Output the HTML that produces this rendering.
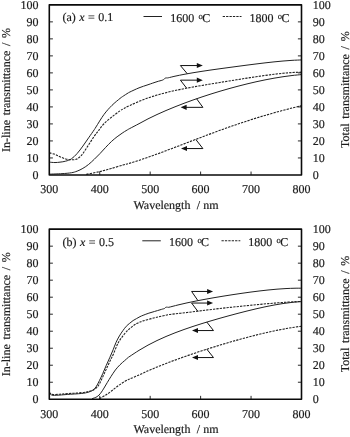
<!DOCTYPE html>
<html><head><meta charset="utf-8"><title>Transmittance spectra</title>
<style>
html,body{margin:0;padding:0;background:#fff;}
body{width:350px;height:437px;overflow:hidden;}
svg{display:block;will-change:transform;text-rendering:geometricPrecision;font-family:"Liberation Serif",serif;font-size:12px;fill:#1c1c1c;}
text{stroke:#1c1c1c;stroke-width:0.18;}
.fr{fill:none;stroke:#0a0a0a;stroke-width:1.6;stroke-linejoin:round;}
.tk{fill:none;stroke:#111;stroke-width:0.9;}
.cs{fill:none;stroke:#222;stroke-width:1.0;}
.cd{fill:none;stroke:#222;stroke-width:1.1;stroke-dasharray:2.3 1.1;}
.ar{fill:none;stroke:#111;stroke-width:1.0;stroke-linejoin:miter;}
.ah{fill:#111;stroke:none;}
.ws{word-spacing:1.4px;}
.wt{word-spacing:0.5px;}
.ws2{word-spacing:1.7px;}
</style></head><body>
<svg width="350" height="437" viewBox="0 0 350 437">
<rect width="350" height="437" fill="#fff"/>
<path d="M49.30 162.15C50.25 162.22 53.22 162.55 55.00 162.55C56.78 162.55 58.22 162.38 60.00 162.15C61.78 161.92 63.80 161.70 65.70 161.15C67.60 160.60 69.50 160.12 71.40 158.85C73.30 157.58 75.18 155.68 77.10 153.55C79.02 151.42 80.98 148.67 82.90 146.05C84.82 143.43 86.70 140.58 88.60 137.85C90.50 135.12 93.07 131.47 94.30 129.65C95.53 127.83 94.38 129.48 96.00 126.95C97.62 124.42 101.33 118.05 104.00 114.45C106.67 110.85 109.33 108.02 112.00 105.35C114.67 102.68 118.13 99.98 120.00 98.45C121.87 96.92 121.87 97.05 123.20 96.15C124.53 95.25 126.87 93.75 128.00 93.05C129.13 92.35 128.17 92.83 130.00 91.96C131.83 91.10 136.00 89.05 139.00 87.85C142.00 86.64 145.00 85.77 148.00 84.74C151.00 83.72 154.65 82.43 157.00 81.68C159.35 80.93 160.98 80.61 162.10 80.24C163.22 79.87 163.22 79.80 163.70 79.47C164.18 79.13 164.52 78.48 165.00 78.22C165.48 77.96 166.05 77.99 166.60 77.91C167.15 77.84 166.90 78.08 168.30 77.79C169.70 77.50 172.38 76.77 175.00 76.19C177.62 75.62 181.00 74.93 184.00 74.36C187.00 73.79 190.00 73.26 193.00 72.76C196.00 72.25 199.00 71.78 202.00 71.32C205.00 70.85 208.00 70.42 211.00 69.98C214.00 69.55 217.00 69.14 220.00 68.72C223.00 68.31 226.00 67.90 229.00 67.50C232.00 67.10 235.00 66.70 238.00 66.30C241.00 65.91 244.00 65.51 247.00 65.12C250.00 64.74 253.00 64.35 256.00 63.98C259.00 63.61 262.00 63.24 265.00 62.89C268.00 62.54 271.00 62.20 274.00 61.88C277.00 61.57 280.00 61.27 283.00 61.02C286.00 60.76 288.92 60.53 292.00 60.35C295.08 60.17 299.92 60.00 301.50 59.93" class="cs"/>
<path d="M49.30 152.85C50.30 153.12 53.52 153.80 55.30 154.45C57.08 155.10 58.27 156.00 60.00 156.75C61.73 157.50 63.80 158.45 65.70 158.95C67.60 159.45 69.68 159.68 71.40 159.75C73.12 159.82 74.67 159.77 76.00 159.35C77.33 158.93 78.25 158.22 79.40 157.25C80.55 156.28 81.37 155.62 82.90 153.55C84.43 151.48 86.70 147.75 88.60 144.85C90.50 141.95 92.67 138.50 94.30 136.15C95.93 133.80 96.78 132.82 98.40 130.75C100.02 128.68 101.73 126.07 104.00 123.75C106.27 121.43 109.33 119.00 112.00 116.85C114.67 114.70 118.00 112.25 120.00 110.85C122.00 109.45 122.33 109.36 124.00 108.45C125.67 107.54 127.50 106.55 130.00 105.38C132.50 104.21 136.00 102.67 139.00 101.43C142.00 100.19 145.00 99.01 148.00 97.95C151.00 96.89 154.00 95.96 157.00 95.08C160.00 94.20 163.00 93.41 166.00 92.66C169.00 91.90 172.00 91.22 175.00 90.56C178.00 89.90 181.00 89.29 184.00 88.70C187.00 88.11 190.00 87.56 193.00 87.01C196.00 86.47 199.00 85.95 202.00 85.44C205.00 84.92 208.00 84.43 211.00 83.93C214.00 83.43 217.00 82.94 220.00 82.46C223.00 81.97 226.00 81.49 229.00 81.00C232.00 80.52 235.00 80.04 238.00 79.56C241.00 79.09 244.00 78.61 247.00 78.14C250.00 77.68 253.00 77.21 256.00 76.76C259.00 76.32 262.00 75.88 265.00 75.46C268.00 75.05 271.00 74.65 274.00 74.28C277.00 73.92 280.00 73.58 283.00 73.29C286.00 73.00 288.92 72.74 292.00 72.56C295.08 72.37 299.92 72.22 301.50 72.16" class="cd"/>
<path d="M49.30 174.15C51.42 174.07 58.32 173.88 62.00 173.65C65.68 173.42 68.88 173.17 71.40 172.75C73.92 172.33 75.18 171.88 77.10 171.15C79.02 170.42 80.98 169.47 82.90 168.35C84.82 167.23 86.70 165.97 88.60 164.45C90.50 162.93 92.40 161.07 94.30 159.25C96.20 157.43 98.10 155.53 100.00 153.55C101.90 151.57 103.80 149.35 105.70 147.35C107.60 145.35 109.50 143.32 111.40 141.55C113.30 139.78 115.18 138.23 117.10 136.75C119.02 135.27 120.98 133.92 122.90 132.65C124.82 131.38 127.42 129.86 128.60 129.15C129.78 128.44 128.27 129.32 130.00 128.41C131.73 127.50 136.00 125.28 139.00 123.69C142.00 122.10 145.00 120.40 148.00 118.87C151.00 117.35 154.00 115.92 157.00 114.53C160.00 113.14 163.00 111.82 166.00 110.53C169.00 109.24 172.00 108.00 175.00 106.80C178.00 105.59 181.00 104.43 184.00 103.30C187.00 102.17 190.00 101.08 193.00 100.01C196.00 98.95 199.00 97.92 202.00 96.92C205.00 95.91 208.00 94.94 211.00 93.99C214.00 93.04 217.00 92.13 220.00 91.23C223.00 90.34 226.00 89.47 229.00 88.63C232.00 87.79 235.00 86.98 238.00 86.19C241.00 85.40 244.00 84.64 247.00 83.91C250.00 83.18 253.00 82.48 256.00 81.81C259.00 81.14 262.00 80.50 265.00 79.90C268.00 79.30 271.00 78.72 274.00 78.19C277.00 77.67 280.00 77.17 283.00 76.73C286.00 76.28 288.92 75.88 292.00 75.52C295.08 75.17 299.92 74.74 301.50 74.58" class="cs"/>
<path d="M86.30 174.35C87.63 174.08 92.02 173.22 94.30 172.75C96.58 172.28 98.28 171.95 100.00 171.55C101.72 171.15 102.70 170.87 104.60 170.35C106.50 169.83 108.35 169.33 111.40 168.45C114.45 167.57 119.80 165.94 122.90 165.05C126.00 164.16 127.32 163.89 130.00 163.12C132.68 162.34 136.00 161.38 139.00 160.40C142.00 159.42 145.00 158.29 148.00 157.23C151.00 156.18 154.00 155.14 157.00 154.05C160.00 152.97 163.00 151.85 166.00 150.73C169.00 149.61 172.00 148.46 175.00 147.32C178.00 146.18 181.00 145.03 184.00 143.88C187.00 142.73 190.00 141.57 193.00 140.42C196.00 139.28 199.00 138.13 202.00 137.00C205.00 135.86 208.00 134.73 211.00 133.62C214.00 132.50 217.00 131.40 220.00 130.31C223.00 129.23 226.00 128.15 229.00 127.10C232.00 126.05 235.00 125.01 238.00 123.99C241.00 122.98 244.00 121.98 247.00 121.01C250.00 120.04 253.00 119.08 256.00 118.15C259.00 117.22 262.00 116.32 265.00 115.43C268.00 114.54 271.00 113.68 274.00 112.84C277.00 112.00 280.00 111.18 283.00 110.38C286.00 109.58 288.92 108.82 292.00 108.04C295.08 107.26 299.92 106.09 301.50 105.70" class="cd"/>
<rect x="49.30" y="4.85" width="252.20" height="170.10" class="fr"/>
<path d="M49.30 157.94h3.6M301.50 157.94h-3.6M49.30 140.93h3.6M301.50 140.93h-3.6M49.30 123.92h3.6M301.50 123.92h-3.6M49.30 106.91h3.6M301.50 106.91h-3.6M49.30 89.90h3.6M301.50 89.90h-3.6M49.30 72.89h3.6M301.50 72.89h-3.6M49.30 55.88h3.6M301.50 55.88h-3.6M49.30 38.87h3.6M301.50 38.87h-3.6M49.30 21.86h3.6M301.50 21.86h-3.6M99.74 174.95v-3.4M150.18 174.95v-3.4M200.62 174.95v-3.4M251.06 174.95v-3.4" class="tk"/>
<text x="38.5" y="178.95" text-anchor="end">0</text>
<text x="312.7" y="178.95">0</text>
<text x="38.5" y="161.94" text-anchor="end">10</text>
<text x="312.7" y="161.94">10</text>
<text x="38.5" y="144.93" text-anchor="end">20</text>
<text x="312.7" y="144.93">20</text>
<text x="38.5" y="127.92" text-anchor="end">30</text>
<text x="312.7" y="127.92">30</text>
<text x="38.5" y="110.91" text-anchor="end">40</text>
<text x="312.7" y="110.91">40</text>
<text x="38.5" y="93.90" text-anchor="end">50</text>
<text x="312.7" y="93.90">50</text>
<text x="38.5" y="76.89" text-anchor="end">60</text>
<text x="312.7" y="76.89">60</text>
<text x="38.5" y="59.88" text-anchor="end">70</text>
<text x="312.7" y="59.88">70</text>
<text x="38.5" y="42.87" text-anchor="end">80</text>
<text x="312.7" y="42.87">80</text>
<text x="38.5" y="25.86" text-anchor="end">90</text>
<text x="312.7" y="25.86">90</text>
<text x="38.5" y="8.85" text-anchor="end">100</text>
<text x="312.7" y="8.85">100</text>
<text x="49.30" y="193.40" text-anchor="middle">300</text>
<text x="99.74" y="193.40" text-anchor="middle">400</text>
<text x="150.18" y="193.40" text-anchor="middle">500</text>
<text x="200.62" y="193.40" text-anchor="middle">600</text>
<text x="251.06" y="193.40" text-anchor="middle">700</text>
<text x="301.50" y="193.40" text-anchor="middle">800</text>
<text x="176" y="208.90" text-anchor="middle" class="ws">Wavelength <tspan dx="1.9">/</tspan> <tspan dx="-1.3">nm</tspan></text>
<text transform="translate(9.7 89.95) rotate(-90)" text-anchor="middle" class="ws2">In-line transmittance / %</text>
<text transform="translate(349.0 89.65) rotate(-90)" text-anchor="middle" class="ws2">Total transmittance / %</text>
<text x="62.4" y="21.35" class="wt">(a) <tspan font-style="italic">x</tspan> = 0.1</text>
<path d="M143.50 16.50H162.00" class="cs"/>
<text x="170.30" y="21.90">1600<tspan x="198.60" y="18.50" font-size="8.6">o</tspan><tspan x="202.20" y="21.90">C</tspan></text>
<path d="M222.70 16.50H241.50" class="cd"/>
<text x="249.50" y="21.90">1800<tspan x="277.80" y="18.50" font-size="8.6">o</tspan><tspan x="281.40" y="21.90">C</tspan></text>
<path d="M187.30 73.75L180.40 65.55L199.20 65.55" class="ar"/><path d="M202.80 65.55L196.80 63.00L196.80 68.10Z" class="ah"/>
<path d="M186.60 88.15L180.40 80.15L199.20 80.15" class="ar"/><path d="M202.80 80.15L196.80 77.60L196.80 82.70Z" class="ah"/>
<path d="M196.60 98.75L202.90 107.35L184.20 107.35" class="ar"/><path d="M180.60 107.35L186.60 104.80L186.60 109.90Z" class="ah"/>
<path d="M195.90 139.55L202.90 148.55L184.60 148.55" class="ar"/><path d="M181.00 148.55L187.00 146.00L187.00 151.10Z" class="ah"/>
<path d="M49.30 393.15C49.58 393.38 50.38 394.18 51.00 394.55C51.62 394.92 51.50 395.27 53.00 395.35C54.50 395.43 57.60 395.20 60.00 395.05C62.40 394.90 63.78 394.72 67.40 394.45C71.02 394.18 78.27 393.82 81.70 393.45C85.13 393.08 86.18 392.77 88.00 392.25C89.82 391.73 91.27 391.23 92.60 390.35C93.93 389.47 94.87 388.57 96.00 386.95C97.13 385.33 98.25 382.93 99.40 380.65C100.55 378.37 101.75 375.82 102.90 373.25C104.05 370.68 105.17 367.83 106.30 365.25C107.43 362.67 108.57 360.32 109.70 357.75C110.83 355.18 112.05 352.40 113.10 349.85C114.15 347.30 114.95 344.77 116.00 342.45C117.05 340.13 118.25 337.92 119.40 335.95C120.55 333.98 121.75 332.27 122.90 330.65C124.05 329.03 125.17 327.48 126.30 326.25C127.43 325.02 128.57 324.20 129.70 323.25C130.83 322.30 131.95 321.34 133.10 320.55C134.25 319.76 135.45 319.18 136.60 318.54C137.75 317.89 138.92 317.21 140.00 316.67C141.08 316.13 141.62 315.89 143.10 315.31C144.58 314.72 146.98 313.79 148.90 313.15C150.82 312.51 152.75 312.00 154.60 311.45C156.45 310.90 158.63 310.25 160.00 309.84C161.37 309.43 162.07 309.18 162.80 308.97C163.53 308.75 163.92 308.81 164.40 308.55C164.88 308.28 165.22 307.60 165.70 307.36C166.18 307.13 166.75 307.15 167.30 307.13C167.85 307.11 167.22 307.59 169.00 307.23C170.78 306.87 175.00 305.68 178.00 304.96C181.00 304.23 184.00 303.55 187.00 302.89C190.00 302.24 193.00 301.62 196.00 301.02C199.00 300.42 202.00 299.86 205.00 299.30C208.00 298.75 211.00 298.22 214.00 297.70C217.00 297.18 220.00 296.68 223.00 296.19C226.00 295.71 229.00 295.23 232.00 294.77C235.00 294.31 238.00 293.86 241.00 293.43C244.00 292.99 247.00 292.57 250.00 292.17C253.00 291.77 256.00 291.38 259.00 291.02C262.00 290.66 265.00 290.32 268.00 290.01C271.00 289.70 274.00 289.41 277.00 289.17C280.00 288.93 283.00 288.71 286.00 288.56C289.00 288.40 292.42 288.29 295.00 288.23C297.58 288.17 300.42 288.21 301.50 288.21" class="cs"/>
<path d="M49.30 392.35C49.58 392.58 50.38 393.38 51.00 393.75C51.62 394.12 51.50 394.47 53.00 394.55C54.50 394.63 57.60 394.40 60.00 394.25C62.40 394.10 63.78 393.92 67.40 393.65C71.02 393.38 78.27 392.98 81.70 392.65C85.13 392.32 86.12 392.07 88.00 391.65C89.88 391.23 91.43 390.93 93.00 390.15C94.57 389.37 96.07 388.53 97.40 386.95C98.73 385.37 99.83 382.93 101.00 380.65C102.17 378.37 103.27 375.73 104.40 373.25C105.53 370.77 106.65 368.23 107.80 365.75C108.95 363.27 110.43 360.13 111.30 358.35C112.17 356.57 112.05 357.22 113.00 355.05C113.95 352.88 115.93 347.73 117.00 345.35C118.07 342.97 118.42 342.32 119.40 340.75C120.38 339.18 121.75 337.45 122.90 335.95C124.05 334.45 125.17 332.97 126.30 331.75C127.43 330.53 128.57 329.63 129.70 328.65C130.83 327.67 131.95 326.70 133.10 325.85C134.25 325.00 135.45 324.18 136.60 323.55C137.75 322.92 138.92 322.50 140.00 322.05C141.08 321.60 141.62 321.30 143.10 320.85C144.58 320.40 146.98 319.89 148.90 319.37C150.82 318.86 152.75 318.24 154.60 317.76C156.45 317.29 157.60 317.06 160.00 316.53C162.40 315.99 166.00 315.05 169.00 314.56C172.00 314.06 175.00 313.88 178.00 313.55C181.00 313.22 184.00 312.91 187.00 312.55C190.00 312.19 193.00 311.76 196.00 311.38C199.00 310.99 202.00 310.61 205.00 310.25C208.00 309.88 211.00 309.53 214.00 309.18C217.00 308.84 220.00 308.50 223.00 308.17C226.00 307.83 229.00 307.51 232.00 307.19C235.00 306.87 238.00 306.55 241.00 306.24C244.00 305.93 247.00 305.63 250.00 305.33C253.00 305.04 256.00 304.74 259.00 304.46C262.00 304.18 265.00 303.91 268.00 303.65C271.00 303.39 274.00 303.13 277.00 302.90C280.00 302.67 283.00 302.44 286.00 302.24C289.00 302.04 292.42 301.84 295.00 301.70C297.58 301.56 300.42 301.45 301.50 301.40" class="cd"/>
<path d="M92.00 398.75C92.85 398.40 95.67 397.57 97.10 396.65C98.53 395.73 99.45 394.68 100.60 393.25C101.75 391.82 102.87 389.87 104.00 388.05C105.13 386.23 106.25 384.25 107.40 382.35C108.55 380.45 109.57 378.72 110.90 376.65C112.23 374.58 113.88 371.93 115.40 369.95C116.92 367.97 118.47 366.30 120.00 364.75C121.53 363.20 123.27 361.83 124.60 360.65C125.93 359.47 127.10 358.39 128.00 357.65C128.90 356.91 128.17 357.45 130.00 356.24C131.83 355.02 136.00 352.20 139.00 350.35C142.00 348.50 145.00 346.76 148.00 345.13C151.00 343.50 154.00 342.00 157.00 340.56C160.00 339.12 163.00 337.78 166.00 336.49C169.00 335.20 172.00 334.00 175.00 332.83C178.00 331.67 181.00 330.57 184.00 329.50C187.00 328.44 190.00 327.42 193.00 326.43C196.00 325.44 199.00 324.49 202.00 323.56C205.00 322.62 208.00 321.72 211.00 320.83C214.00 319.94 217.00 319.08 220.00 318.23C223.00 317.38 226.00 316.54 229.00 315.73C232.00 314.91 235.00 314.10 238.00 313.32C241.00 312.54 244.00 311.77 247.00 311.02C250.00 310.28 253.00 309.55 256.00 308.85C259.00 308.15 262.00 307.48 265.00 306.84C268.00 306.21 271.00 305.60 274.00 305.05C277.00 304.50 280.00 303.98 283.00 303.54C286.00 303.09 288.92 302.70 292.00 302.38C295.08 302.06 299.92 301.77 301.50 301.64" class="cs"/>
<path d="M99.40 398.55C100.35 398.03 103.18 396.63 105.10 395.45C107.02 394.27 108.98 392.87 110.90 391.45C112.82 390.03 114.70 388.37 116.60 386.95C118.50 385.53 120.40 384.17 122.30 382.95C124.20 381.73 126.72 380.34 128.00 379.65C129.28 378.96 128.17 379.61 130.00 378.83C131.83 378.05 136.00 376.29 139.00 374.96C142.00 373.63 145.00 372.18 148.00 370.86C151.00 369.55 154.00 368.30 157.00 367.07C160.00 365.84 163.00 364.67 166.00 363.51C169.00 362.35 172.00 361.22 175.00 360.11C178.00 359.00 181.00 357.92 184.00 356.86C187.00 355.80 190.00 354.76 193.00 353.74C196.00 352.72 199.00 351.72 202.00 350.74C205.00 349.76 208.00 348.80 211.00 347.86C214.00 346.91 217.00 345.98 220.00 345.08C223.00 344.17 226.00 343.28 229.00 342.41C232.00 341.54 235.00 340.68 238.00 339.85C241.00 339.02 244.00 338.20 247.00 337.41C250.00 336.62 253.00 335.85 256.00 335.11C259.00 334.37 262.00 333.64 265.00 332.95C268.00 332.26 271.00 331.60 274.00 330.96C277.00 330.33 280.00 329.73 283.00 329.17C286.00 328.60 288.92 328.08 292.00 327.59C295.08 327.09 299.92 326.42 301.50 326.19" class="cd"/>
<rect x="49.30" y="229.15" width="252.20" height="170.10" class="fr"/>
<path d="M49.30 382.24h3.6M301.50 382.24h-3.6M49.30 365.23h3.6M301.50 365.23h-3.6M49.30 348.22h3.6M301.50 348.22h-3.6M49.30 331.21h3.6M301.50 331.21h-3.6M49.30 314.20h3.6M301.50 314.20h-3.6M49.30 297.19h3.6M301.50 297.19h-3.6M49.30 280.18h3.6M301.50 280.18h-3.6M49.30 263.17h3.6M301.50 263.17h-3.6M49.30 246.16h3.6M301.50 246.16h-3.6M99.74 399.25v-3.4M150.18 399.25v-3.4M200.62 399.25v-3.4M251.06 399.25v-3.4" class="tk"/>
<text x="38.5" y="403.25" text-anchor="end">0</text>
<text x="312.7" y="403.25">0</text>
<text x="38.5" y="386.24" text-anchor="end">10</text>
<text x="312.7" y="386.24">10</text>
<text x="38.5" y="369.23" text-anchor="end">20</text>
<text x="312.7" y="369.23">20</text>
<text x="38.5" y="352.22" text-anchor="end">30</text>
<text x="312.7" y="352.22">30</text>
<text x="38.5" y="335.21" text-anchor="end">40</text>
<text x="312.7" y="335.21">40</text>
<text x="38.5" y="318.20" text-anchor="end">50</text>
<text x="312.7" y="318.20">50</text>
<text x="38.5" y="301.19" text-anchor="end">60</text>
<text x="312.7" y="301.19">60</text>
<text x="38.5" y="284.18" text-anchor="end">70</text>
<text x="312.7" y="284.18">70</text>
<text x="38.5" y="267.17" text-anchor="end">80</text>
<text x="312.7" y="267.17">80</text>
<text x="38.5" y="250.16" text-anchor="end">90</text>
<text x="312.7" y="250.16">90</text>
<text x="38.5" y="233.15" text-anchor="end">100</text>
<text x="312.7" y="233.15">100</text>
<text x="49.30" y="417.70" text-anchor="middle">300</text>
<text x="99.74" y="417.70" text-anchor="middle">400</text>
<text x="150.18" y="417.70" text-anchor="middle">500</text>
<text x="200.62" y="417.70" text-anchor="middle">600</text>
<text x="251.06" y="417.70" text-anchor="middle">700</text>
<text x="301.50" y="417.70" text-anchor="middle">800</text>
<text x="176" y="433.20" text-anchor="middle" class="ws">Wavelength <tspan dx="1.9">/</tspan> <tspan dx="-1.3">nm</tspan></text>
<text transform="translate(9.7 314.25) rotate(-90)" text-anchor="middle" class="ws2">In-line transmittance / %</text>
<text transform="translate(349.0 313.95) rotate(-90)" text-anchor="middle" class="ws2">Total transmittance / %</text>
<text x="62.4" y="245.65" class="wt">(b) <tspan font-style="italic">x</tspan> = 0.5</text>
<path d="M142.30 240.80H160.80" class="cs"/>
<text x="169.10" y="246.20">1600<tspan x="197.40" y="242.80" font-size="8.6">o</tspan><tspan x="201.00" y="246.20">C</tspan></text>
<path d="M221.50 240.80H240.30" class="cd"/>
<text x="248.30" y="246.20">1800<tspan x="276.60" y="242.80" font-size="8.6">o</tspan><tspan x="280.20" y="246.20">C</tspan></text>
<path d="M197.90 300.55L191.60 291.45L209.50 291.45" class="ar"/><path d="M213.10 291.45L207.10 288.90L207.10 294.00Z" class="ah"/>
<path d="M197.90 311.45L191.60 303.05L209.50 303.05" class="ar"/><path d="M213.10 303.05L207.10 300.50L207.10 305.60Z" class="ah"/>
<path d="M206.70 321.95L213.50 330.55L195.60 330.55" class="ar"/><path d="M192.00 330.55L198.00 328.00L198.00 333.10Z" class="ah"/>
<path d="M206.70 349.05L213.50 357.55L195.60 357.55" class="ar"/><path d="M192.00 357.55L198.00 355.00L198.00 360.10Z" class="ah"/>
</svg>
</body></html>
